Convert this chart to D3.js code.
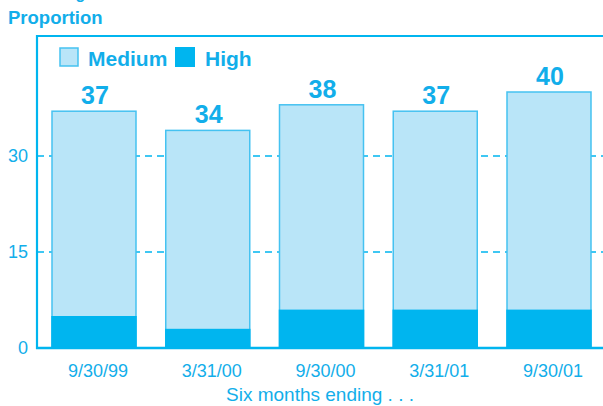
<!DOCTYPE html>
<html>
<head>
<meta charset="utf-8">
<script src="https://cdn.jsdelivr.net/npm/d3@7"></script>
<style>
  html, body { margin: 0; padding: 0; background: #fff; }
  svg { display: block; font-family: "Liberation Sans", Arial, sans-serif; }
</style>
</head>
<body>
<svg id="chart" width="603" height="406"></svg>
<script>
// Six-month periods and their rating proportions
const periods = ["9/30/99", "3/31/00", "9/30/00", "3/31/01", "9/30/01"];
const totalValues = [37, 34, 38, 37, 40];   // Medium + High
const highValues = [5, 3, 6, 6, 6];
const yTicks = [0, 15, 30];

const textBlue = "#12aeea";
const darkBlue = "#00b5ef";
const lightBlue = "#b9e5f8";
const edgeBlue = "#45c2f1";

const svg = d3.select("#chart");

const plot = { left: 37, right: 603, top: 36, bottom: 348 };

const y = d3.scaleLinear().domain([0, 48.75]).range([plot.bottom, plot.top]);
const x = d3.scaleBand().domain(periods)
  .range([52, 591]).paddingInner(0.2615).paddingOuter(0);

// Title (mostly above the visible area) and y-axis caption
svg.append("text").attr("x", 8).attr("y", -1.5)
  .attr("font-size", 16).attr("font-weight", "bold").attr("fill", textBlue)
  .text("Percentage");
svg.append("text").attr("x", 8).attr("y", 24)
  .attr("font-size", 18.5).attr("font-weight", "bold").attr("fill", textBlue)
  .text("Proportion");

// Dashed grid lines
svg.append("g").selectAll("line").data(yTicks.filter(d => d > 0)).join("line")
  .attr("x1", plot.left).attr("x2", plot.right)
  .attr("y1", d => y(d)).attr("y2", d => y(d))
  .attr("stroke", darkBlue).attr("stroke-width", 1.3)
  .attr("stroke-dasharray", "7,5");

// Bars: medium (full stack) then high portion
const bars = svg.append("g");
bars.selectAll("rect.total").data(periods).join("rect")
  .attr("class", "total")
  .attr("x", d => x(d)).attr("width", x.bandwidth())
  .attr("y", (d, i) => y(totalValues[i]))
  .attr("height", (d, i) => y(0) - y(totalValues[i]))
  .attr("fill", lightBlue).attr("stroke", edgeBlue).attr("stroke-width", 1.5);
bars.selectAll("rect.high").data(periods).join("rect")
  .attr("class", "high")
  .attr("x", d => x(d) - 0.75).attr("width", x.bandwidth() + 1.5)
  .attr("y", (d, i) => y(highValues[i]))
  .attr("height", (d, i) => y(0) - y(highValues[i]))
  .attr("fill", darkBlue);

// Value labels
svg.append("g").selectAll("text").data(periods).join("text")
  .attr("x", d => x(d) + x.bandwidth() / 2 + 1)
  .attr("y", (d, i) => y(totalValues[i]) - 7)
  .attr("text-anchor", "middle").attr("font-size", 25).attr("font-weight", "bold")
  .attr("fill", textBlue)
  .text((d, i) => totalValues[i]);

// Frame: left axis, top line, baseline
svg.append("line").attr("x1", plot.left).attr("x2", plot.left)
  .attr("y1", plot.top - 1).attr("y2", plot.bottom + 1)
  .attr("stroke", darkBlue).attr("stroke-width", 2.2);
svg.append("line").attr("x1", plot.left - 1).attr("x2", plot.right)
  .attr("y1", plot.top).attr("y2", plot.top)
  .attr("stroke", darkBlue).attr("stroke-width", 2.2);
svg.append("line").attr("x1", plot.left - 1).attr("x2", plot.right)
  .attr("y1", plot.bottom).attr("y2", plot.bottom)
  .attr("stroke", darkBlue).attr("stroke-width", 2.5);

// Y tick labels
const yAxis = svg.append("g").attr("transform", `translate(${plot.left},0)`)
  .call(d3.axisLeft(y).tickValues(yTicks).tickSize(0).tickPadding(9));
yAxis.select(".domain").remove();
yAxis.selectAll("text").attr("font-size", 18).attr("fill", textBlue)
  .attr("font-family", "Liberation Sans, Arial, sans-serif");

// X tick labels
const xAxis = svg.append("g").attr("transform", `translate(0,${plot.bottom})`)
  .call(d3.axisBottom(x).tickSize(0).tickPadding(0));
xAxis.select(".domain").remove();
xAxis.selectAll("text").attr("font-size", 18).attr("fill", textBlue)
  .attr("dy", null).attr("y", 29).attr("x", 4)
  .attr("font-family", "Liberation Sans, Arial, sans-serif");

svg.append("text").attr("x", 320).attr("y", 401)
  .attr("text-anchor", "middle").attr("font-size", 19).attr("fill", textBlue)
  .text("Six months ending . . .");

// Legend
const legend = svg.append("g");
legend.append("rect").attr("x", 60).attr("y", 48).attr("width", 18).attr("height", 18)
  .attr("fill", lightBlue).attr("stroke", edgeBlue).attr("stroke-width", 1.5);
legend.append("text").attr("x", 88).attr("y", 66)
  .attr("font-size", 21).attr("font-weight", "bold").attr("fill", textBlue).text("Medium");
legend.append("rect").attr("x", 175).attr("y", 47).attr("width", 20).attr("height", 20)
  .attr("fill", darkBlue);
legend.append("text").attr("x", 205).attr("y", 66)
  .attr("font-size", 21).attr("font-weight", "bold").attr("fill", textBlue).text("High");
</script>
</body>
</html>
